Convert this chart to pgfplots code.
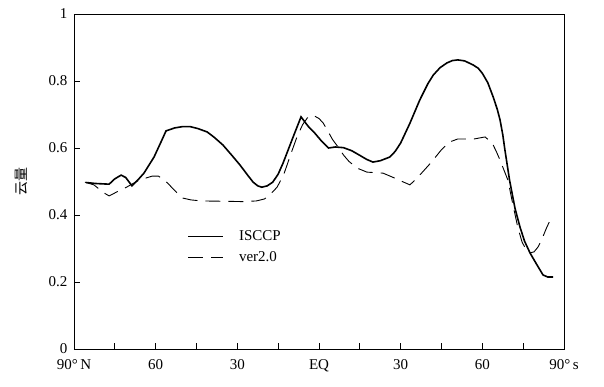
\documentclass[border=0pt]{standalone}
\usepackage{pgfplots}
\pgfplotsset{compat=1.18}
\usepackage{fontspec}
\setmainfont{Liberation Serif}
\newfontfamily\cjk{Noto Sans CJK SC}
\begin{document}
\begin{tikzpicture}[font=\fontsize{15}{18}\selectfont]
\begin{axis}[
  name=ax,
  scale only axis,
  width=490pt, height=335pt,
  xmin=0, xmax=180, ymin=0, ymax=1,
  xtick={0,15,...,180},
  xticklabels={90°\,N,,60,,30,,EQ,,30,,60,,90°\,s},
  ytick={0,0.2,0.4,0.6,0.8,1},
  yticklabels={0,0.2,0.4,0.6,0.8,1},
  xtick pos=left, ytick pos=left,
  tick align=inside,
  major tick length=6pt,
  axis line style={line width=0.9pt},
  tick style={line width=0.8pt, black},
  ticklabel style={font=\fontsize{15}{18}\selectfont},
  xticklabel style={yshift=-7pt},
  yticklabel style={xshift=-3pt},
  ylabel={\cjk 云量},
  ylabel style={font=\cjk\fontsize{14}{16}\selectfont, at={(rel axis cs:0,0.5)}, anchor=center, yshift=53pt},
  legend style={at={(rel axis cs:0.225,0.365)}, anchor=north west, draw=none, fill=none,
    font=\fontsize{15}{18}\selectfont, row sep=5pt},
  legend cell align=left,
  legend image code/.code={\draw[#1] (0pt,0pt) -- (35pt,0pt); \path (48pt,0pt);},
]
\addplot[black, line width=1.6pt] coordinates {
(4.4,0.497) (8,0.494) (12.9,0.492) (15,0.508) (17.3,0.519) (19,0.512) (21.3,0.487)
(23.5,0.505) (25.7,0.525) (29.4,0.573) (32.3,0.624) (33.8,0.651) (37,0.660)
(40,0.664) (42.6,0.664) (45.5,0.658) (48.9,0.648) (51.5,0.632) (54.7,0.609)
(58,0.578) (61,0.549) (63.5,0.522) (65.8,0.498) (67.5,0.487) (69,0.483)
(71,0.487) (73,0.498) (75,0.522) (76.8,0.555) (78.7,0.595) (80.5,0.633)
(83.4,0.693) (86,0.665) (88.5,0.644) (91,0.620) (93.5,0.600) (96,0.603)
(99,0.601) (102,0.592) (105,0.578) (107.5,0.566) (109.8,0.558) (112.5,0.562)
(116,0.573) (118,0.590) (120,0.615) (123.4,0.674) (127,0.743) (130,0.792)
(132,0.818) (134.5,0.840) (137,0.854) (139,0.861) (141,0.863) (143.5,0.860)
(146.6,0.848) (148.5,0.838) (150,0.823) (152,0.795) (154,0.752) (155.5,0.715)
(156.5,0.684) (157.5,0.640) (158.3,0.594) (160,0.504) (162,0.420) (163.8,0.365)
(165.5,0.322) (167.5,0.287) (170,0.252) (172.3,0.221) (174,0.215) (176,0.215)
};
\addlegendentry{ISCCP}
\addplot[black, line width=0.9pt, dash pattern=on 15pt off 8pt] coordinates {
(4,0.498) (7.3,0.490) (11,0.466) (12.9,0.457) (16,0.470) (19.5,0.484) (23.9,0.504)
(28.7,0.516) (31,0.516) (33,0.506) (35,0.490) (37.5,0.469) (39.7,0.451)
(43,0.445) (46.7,0.442) (55,0.441) (62,0.440) (67,0.442) (70,0.448)
(72.5,0.465) (74.6,0.483) (77,0.520) (78,0.543) (80,0.590) (81.9,0.633)
(84,0.670) (86,0.693) (88,0.697) (90,0.688) (91.5,0.675) (93,0.654) (95,0.625)
(97,0.603) (99,0.579) (101,0.560) (104,0.540) (107.6,0.528) (113.5,0.525)
(117,0.513) (120,0.502) (123.4,0.490) (126,0.510) (131,0.555) (135,0.595)
(138,0.618) (141,0.627) (147,0.627) (151,0.633) (153.6,0.615) (155,0.592)
(156.5,0.564) (159.4,0.504) (161,0.440) (163,0.364) (164.6,0.319) (166,0.298)
(167.5,0.287) (169,0.290) (170.5,0.305) (172,0.330) (173.5,0.360) (175.6,0.397)
};
\addlegendentry{ver2.0}
\end{axis}
\pgfresetboundingbox
\path[use as bounding box] ([shift={(-74pt,-37pt)}]ax.south west) rectangle ([shift={(40pt,14pt)}]ax.north east);
\end{tikzpicture}
\end{document}
